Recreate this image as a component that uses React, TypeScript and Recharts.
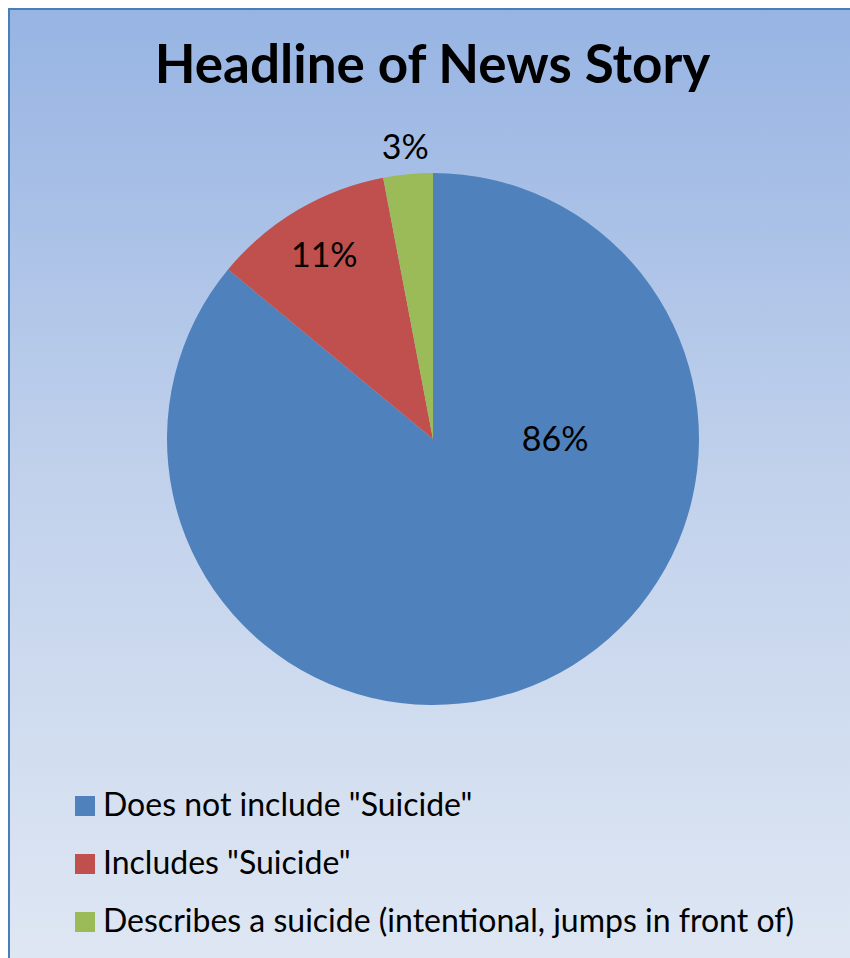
import React from "react";
import { PieChart, Pie, Cell, Legend } from "recharts";

const categories = [
  'Does not include "Suicide"',
  'Includes "Suicide"',
  "Describes a suicide (intentional, jumps in front of)",
];
const values = [86, 11, 3];
const colors = ["#4F81BD", "#C0504D", "#9BBB59"];
const title = "Headline of News Story";

const data = categories.map((name, i) => ({ name, value: values[i] }));

// label placement: [fixed angle in degrees or null for mid-angle, radius fraction]
const LABEL_PLACEMENT: [number | null, number][] = [
  [0, 0.459],
  [null, 0.803],
  [null, 1.104],
];

const FONT = "Lato, 'Open Sans', sans-serif";
const RAD = Math.PI / 180;

const renderLabel = (props: any) => {
  const { cx, cy, midAngle, outerRadius, percent, index } = props;
  const [fixed, frac] = LABEL_PLACEMENT[index];
  const ang = fixed === null ? midAngle : fixed;
  const r = outerRadius * frac;
  const x = cx + r * Math.cos(-ang * RAD);
  const y = cy + r * Math.sin(-ang * RAD);
  return (
    <text
      key={`lbl-${index}`}
      x={x}
      y={y + 12}
      textAnchor="middle"
      fill="#000"
      style={{ fontFamily: FONT, fontSize: 34 }}
    >
      {`${Math.round(percent * 100)}%`}
    </text>
  );
};

const renderLegend = () => {
  return (
    <svg width={770} height={170} style={{ display: "block", overflow: "visible" }}>
      {categories.map((name, i) => (
        <g key={`leg-${i}`}>
          <rect x={7} y={8 + 58 * i} width={20} height={20} fill={colors[i]} />
          <text
            x={35}
            y={28 + 58 * i}
            fill="#000"
            style={{ fontFamily: FONT, fontSize: 32 }}
          >
            {name}
          </text>
        </g>
      ))}
    </svg>
  );
};

export default function App() {
  return (
    <div
      style={{
        position: "fixed",
        left: 0,
        top: 0,
        width: 850,
        height: 958,
        overflow: "hidden",
        background: "#fff",
      }}
    >
      <div
        style={{
          position: "absolute",
          left: 8,
          top: 8,
          width: 880,
          height: 965,
          boxSizing: "border-box",
          border: "2px solid #4a7ebb",
          background: "linear-gradient(to bottom, #97b4e3 0%, #c2d2ec 50%, #dfe7f3 100%)",
        }}
      />
      <svg width={850} height={130} style={{ position: "absolute", left: 0, top: 0 }}>
        <text
          x={432.5}
          y={83}
          textAnchor="middle"
          fill="#000"
          style={{ fontFamily: FONT, fontSize: 53, fontWeight: 700 }}
        >
          {title}
        </text>
      </svg>
      <div style={{ position: "absolute", left: 0, top: 0 }}>
        <PieChart width={850} height={958} margin={{ top: 0, right: 0, bottom: 0, left: 0 }}>
          <Pie
            data={data}
            dataKey="value"
            nameKey="name"
            cx={433}
            cy={439}
            outerRadius={266}
            startAngle={90}
            endAngle={-270}
            stroke="none"
            label={renderLabel}
            labelLine={false}
            isAnimationActive={false}
          >
            {data.map((d, i) => (
              <Cell key={`c-${i}`} fill={colors[i]} />
            ))}
          </Pie>
          <Legend
            content={renderLegend}
            wrapperStyle={{ position: "absolute", left: 68, top: 788, width: 770 }}
          />
        </PieChart>
      </div>
    </div>
  );
}
